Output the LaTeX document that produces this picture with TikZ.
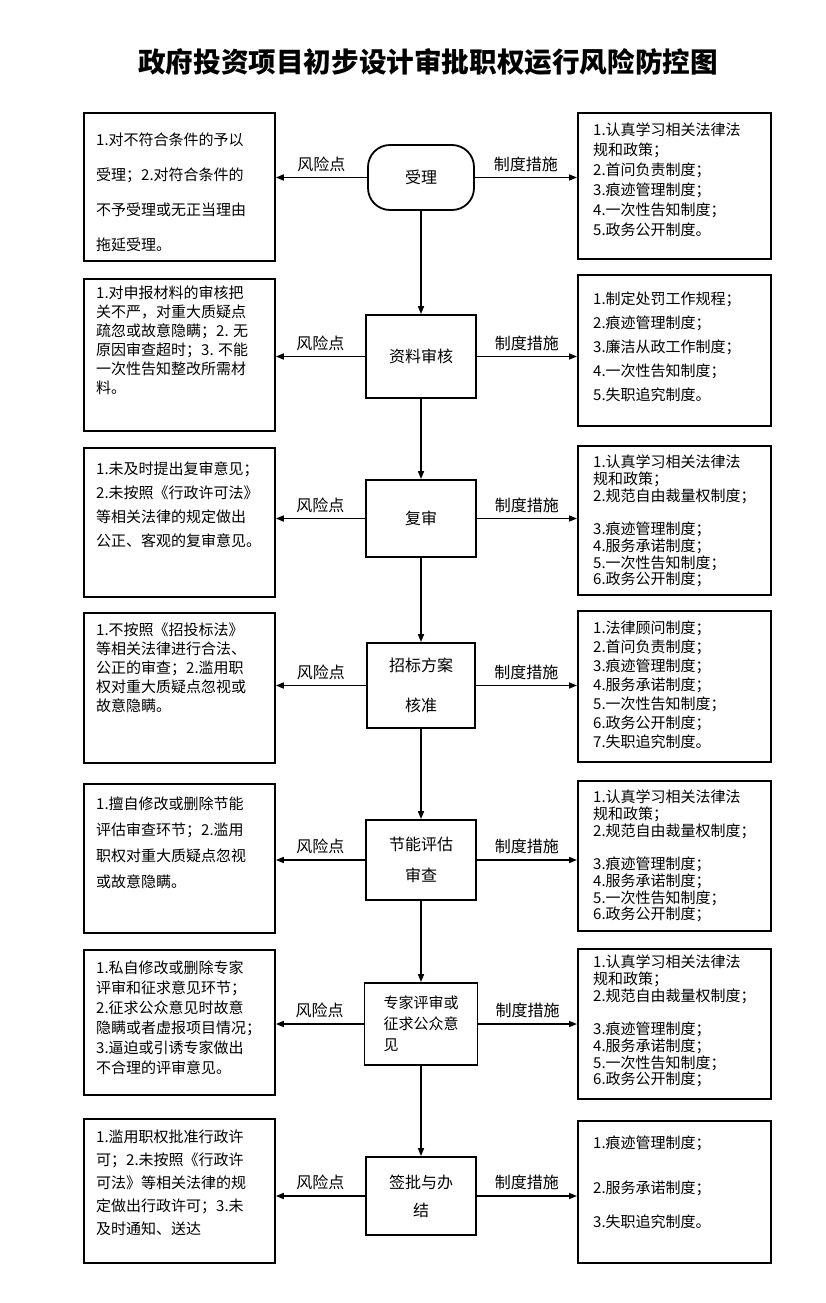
\documentclass[tikz,border=0pt]{standalone}
\usepackage{fontspec}
\setmainfont{Noto Sans CJK SC}
\usetikzlibrary{arrows.meta}
\tikzset{
  box/.style={draw, line width=1.8pt, anchor=north west, inner sep=0pt},
  stepbox/.style={draw, line width=1.8pt, minimum width=110pt, minimum height=80pt, align=center, font={\fontsize{16pt}{20pt}\selectfont}},
  txt/.style={anchor=north west, align=left, inner sep=0pt, font={\fontsize{15pt}{#1}\selectfont}},
  arr/.style={line width=1.5pt, -{Triangle[length=8pt,width=6pt]}},
  lbl/.style={above, inner sep=5pt, font={\fontsize{16pt}{20pt}\selectfont}}
}
\begin{document}
\begin{tikzpicture}[x=1pt,y=-1pt]
        \fill[white] (0,0) rectangle (826,1303);
        \useasboundingbox (0,0) rectangle (826,1303);

        \node[font={\fontsize{27.6pt}{30pt}\selectfont\bfseries}] (title) at (428,62) {政府投资项目初步设计审批职权运行风险防控图};

        % steps
        \node[stepbox, rounded corners=22pt, minimum width=106pt, minimum height=65pt] (s1) at (421,177.5) {受理};
        \node[stepbox, minimum height=83pt] (s2) at (421,356.5) {资料审核};
        \node[stepbox, minimum height=77pt] (s3) at (421,518.5) {复审};
        \node[stepbox, minimum width=108pt, minimum height=85pt, font={\fontsize{16pt}{40pt}\selectfont}] (s4) at (421,685.5) {招标方案\\核准};
        \node[stepbox, font={\fontsize{16pt}{31pt}\selectfont}] (s5) at (421,860) {节能评估\\审查};
        \node[stepbox, minimum width=113pt, minimum height=82pt, align=left, font={\fontsize{15pt}{21pt}\selectfont}] (s6) at (421,1024) {专家评审或\\征求公众意\\见};
        \node[stepbox, minimum height=78pt, font={\fontsize{16pt}{28pt}\selectfont}] (s7) at (421,1196) {签批与办\\结};

        % left boxes
        \node[box, minimum width=191pt, minimum height=148pt] (l1) at (83,112) {};
        \node[box, minimum width=191pt, minimum height=152pt] (l2) at (83,278) {};
        \node[box, minimum width=191pt, minimum height=149pt] (l3) at (83,447) {};
        \node[box, minimum width=191pt, minimum height=150pt] (l4) at (83,612) {};
        \node[box, minimum width=191pt, minimum height=149pt] (l5) at (83,783) {};
        \node[box, minimum width=191pt, minimum height=145pt] (l6) at (83,949) {};
        \node[box, minimum width=191pt, minimum height=144pt] (l7) at (83,1118) {};

        % right boxes
        \node[box, minimum width=193pt, minimum height=146pt] (r1) at (577,112) {};
        \node[box, minimum width=193pt, minimum height=151pt] (r2) at (577,274) {};
        \node[box, minimum width=193pt, minimum height=149pt] (r3) at (577,445) {};
        \node[box, minimum width=193pt, minimum height=151pt] (r4) at (577,610) {};
        \node[box, minimum width=193pt, minimum height=150pt] (r5) at (577,780) {};
        \node[box, minimum width=193pt, minimum height=150pt] (r6) at (577,948) {};
        \node[box, minimum width=193pt, minimum height=142pt] (r7) at (577,1120) {};

        % risk texts
        \node[txt=35pt] (lt1) at (96,133) {1.对不符合条件的予以\\受理；2.对符合条件的\\不予受理或无正当理由\\拖延受理。};
        \node[txt=19pt] (lt2) at (96,286) {1.对申报材料的审核把\\关不严，对重大质疑点\\疏忽或故意隐瞒；2. 无\\原因审查超时；3. 不能\\一次性告知整改所需材\\料。};
        \node[txt=24pt] (lt3) at (96,462) {1.未及时提出复审意见；\\2.未按照《行政许可法》\\等相关法律的规定做出\\公正、客观的复审意见。};
        \node[txt=19pt] (lt4) at (96,623) {1.不按照《招投标法》\\等相关法律进行合法、\\公正的审查；2.滥用职\\权对重大质疑点忽视或\\故意隐瞒。};
        \node[txt=26pt] (lt5) at (96,797) {1.擅自修改或删除节能\\评估审查环节；2.滥用\\职权对重大质疑点忽视\\或故意隐瞒。};
        \node[txt=20pt] (lt6) at (96,961) {1.私自修改或删除专家\\评审和征求意见环节；\\2.征求公众意见时故意\\隐瞒或者虚报项目情况；\\3.逼迫或引诱专家做出\\不合理的评审意见。};
        \node[txt=23pt] (lt7) at (96,1130) {1.滥用职权批准行政许\\可；2.未按照《行政许\\可法》等相关法律的规\\定做出行政许可；3.未\\及时通知、送达};

        % measure texts
        \node[txt=20pt] (rt1) at (593,123) {1.认真学习相关法律法\\规和政策；\\2.首问负责制度；\\3.痕迹管理制度；\\4.一次性告知制度；\\5.政务公开制度。};
        \node[txt=24pt] (rt2) at (593,292) {1.制定处罚工作规程；\\2.痕迹管理制度；\\3.廉洁从政工作制度；\\4.一次性告知制度；\\5.失职追究制度。};
        \node[txt=16.7pt] (rt3) at (593,455) {1.认真学习相关法律法\\规和政策；\\2.规范自由裁量权制度；\\[16.7pt]3.痕迹管理制度；\\4.服务承诺制度；\\5.一次性告知制度；\\6.政务公开制度；};
        \node[txt=19pt] (rt4) at (593,621) {1.法律顾问制度；\\2.首问负责制度；\\3.痕迹管理制度；\\4.服务承诺制度；\\5.一次性告知制度；\\6.政务公开制度；\\7.失职追究制度。};
        \node[txt=16.7pt] (rt5) at (593,790) {1.认真学习相关法律法\\规和政策；\\2.规范自由裁量权制度；\\[16.7pt]3.痕迹管理制度；\\4.服务承诺制度；\\5.一次性告知制度；\\6.政务公开制度；};
        \node[txt=16.7pt] (rt6) at (593,955) {1.认真学习相关法律法\\规和政策；\\2.规范自由裁量权制度；\\[16.7pt]3.痕迹管理制度；\\4.服务承诺制度；\\5.一次性告知制度；\\6.政务公开制度；};
        \node[txt=17pt] (rt7) at (593,1136) {1.痕迹管理制度；\\[28pt]2.服务承诺制度；\\[17pt]3.失职追究制度。};

        % flow
        \draw[arr] (s1.south) -- (s2.north);
        \draw[arr] (s2.south) -- (s3.north);
        \draw[arr] (s3.south) -- (s4.north);
        \draw[arr] (s4.south) -- (s5.north);
        \draw[arr] (s5.south) -- (s6.north);
        \draw[arr] (s6.south) -- (s7.north);

        % risk points and measures
        \draw[arr] (s1.west) -- node[lbl] {风险点} (s1.west -| l1.east);
        \draw[arr] (s1.east) -- node[lbl] {制度措施} (s1.east -| r1.west);
        \draw[arr] (s2.west) -- node[lbl] {风险点} (s2.west -| l2.east);
        \draw[arr] (s2.east) -- node[lbl] {制度措施} (s2.east -| r2.west);
        \draw[arr] (s3.west) -- node[lbl] {风险点} (s3.west -| l3.east);
        \draw[arr] (s3.east) -- node[lbl] {制度措施} (s3.east -| r3.west);
        \draw[arr] (s4.west) -- node[lbl] {风险点} (s4.west -| l4.east);
        \draw[arr] (s4.east) -- node[lbl] {制度措施} (s4.east -| r4.west);
        \draw[arr] (s5.west) -- node[lbl] {风险点} (s5.west -| l5.east);
        \draw[arr] (s5.east) -- node[lbl] {制度措施} (s5.east -| r5.west);
        \draw[arr] (s6.west) -- node[lbl] {风险点} (s6.west -| l6.east);
        \draw[arr] (s6.east) -- node[lbl] {制度措施} (s6.east -| r6.west);
        \draw[arr] (s7.west) -- node[lbl] {风险点} (s7.west -| l7.east);
        \draw[arr] (s7.east) -- node[lbl] {制度措施} (s7.east -| r7.west);
\end{tikzpicture}
\end{document}
